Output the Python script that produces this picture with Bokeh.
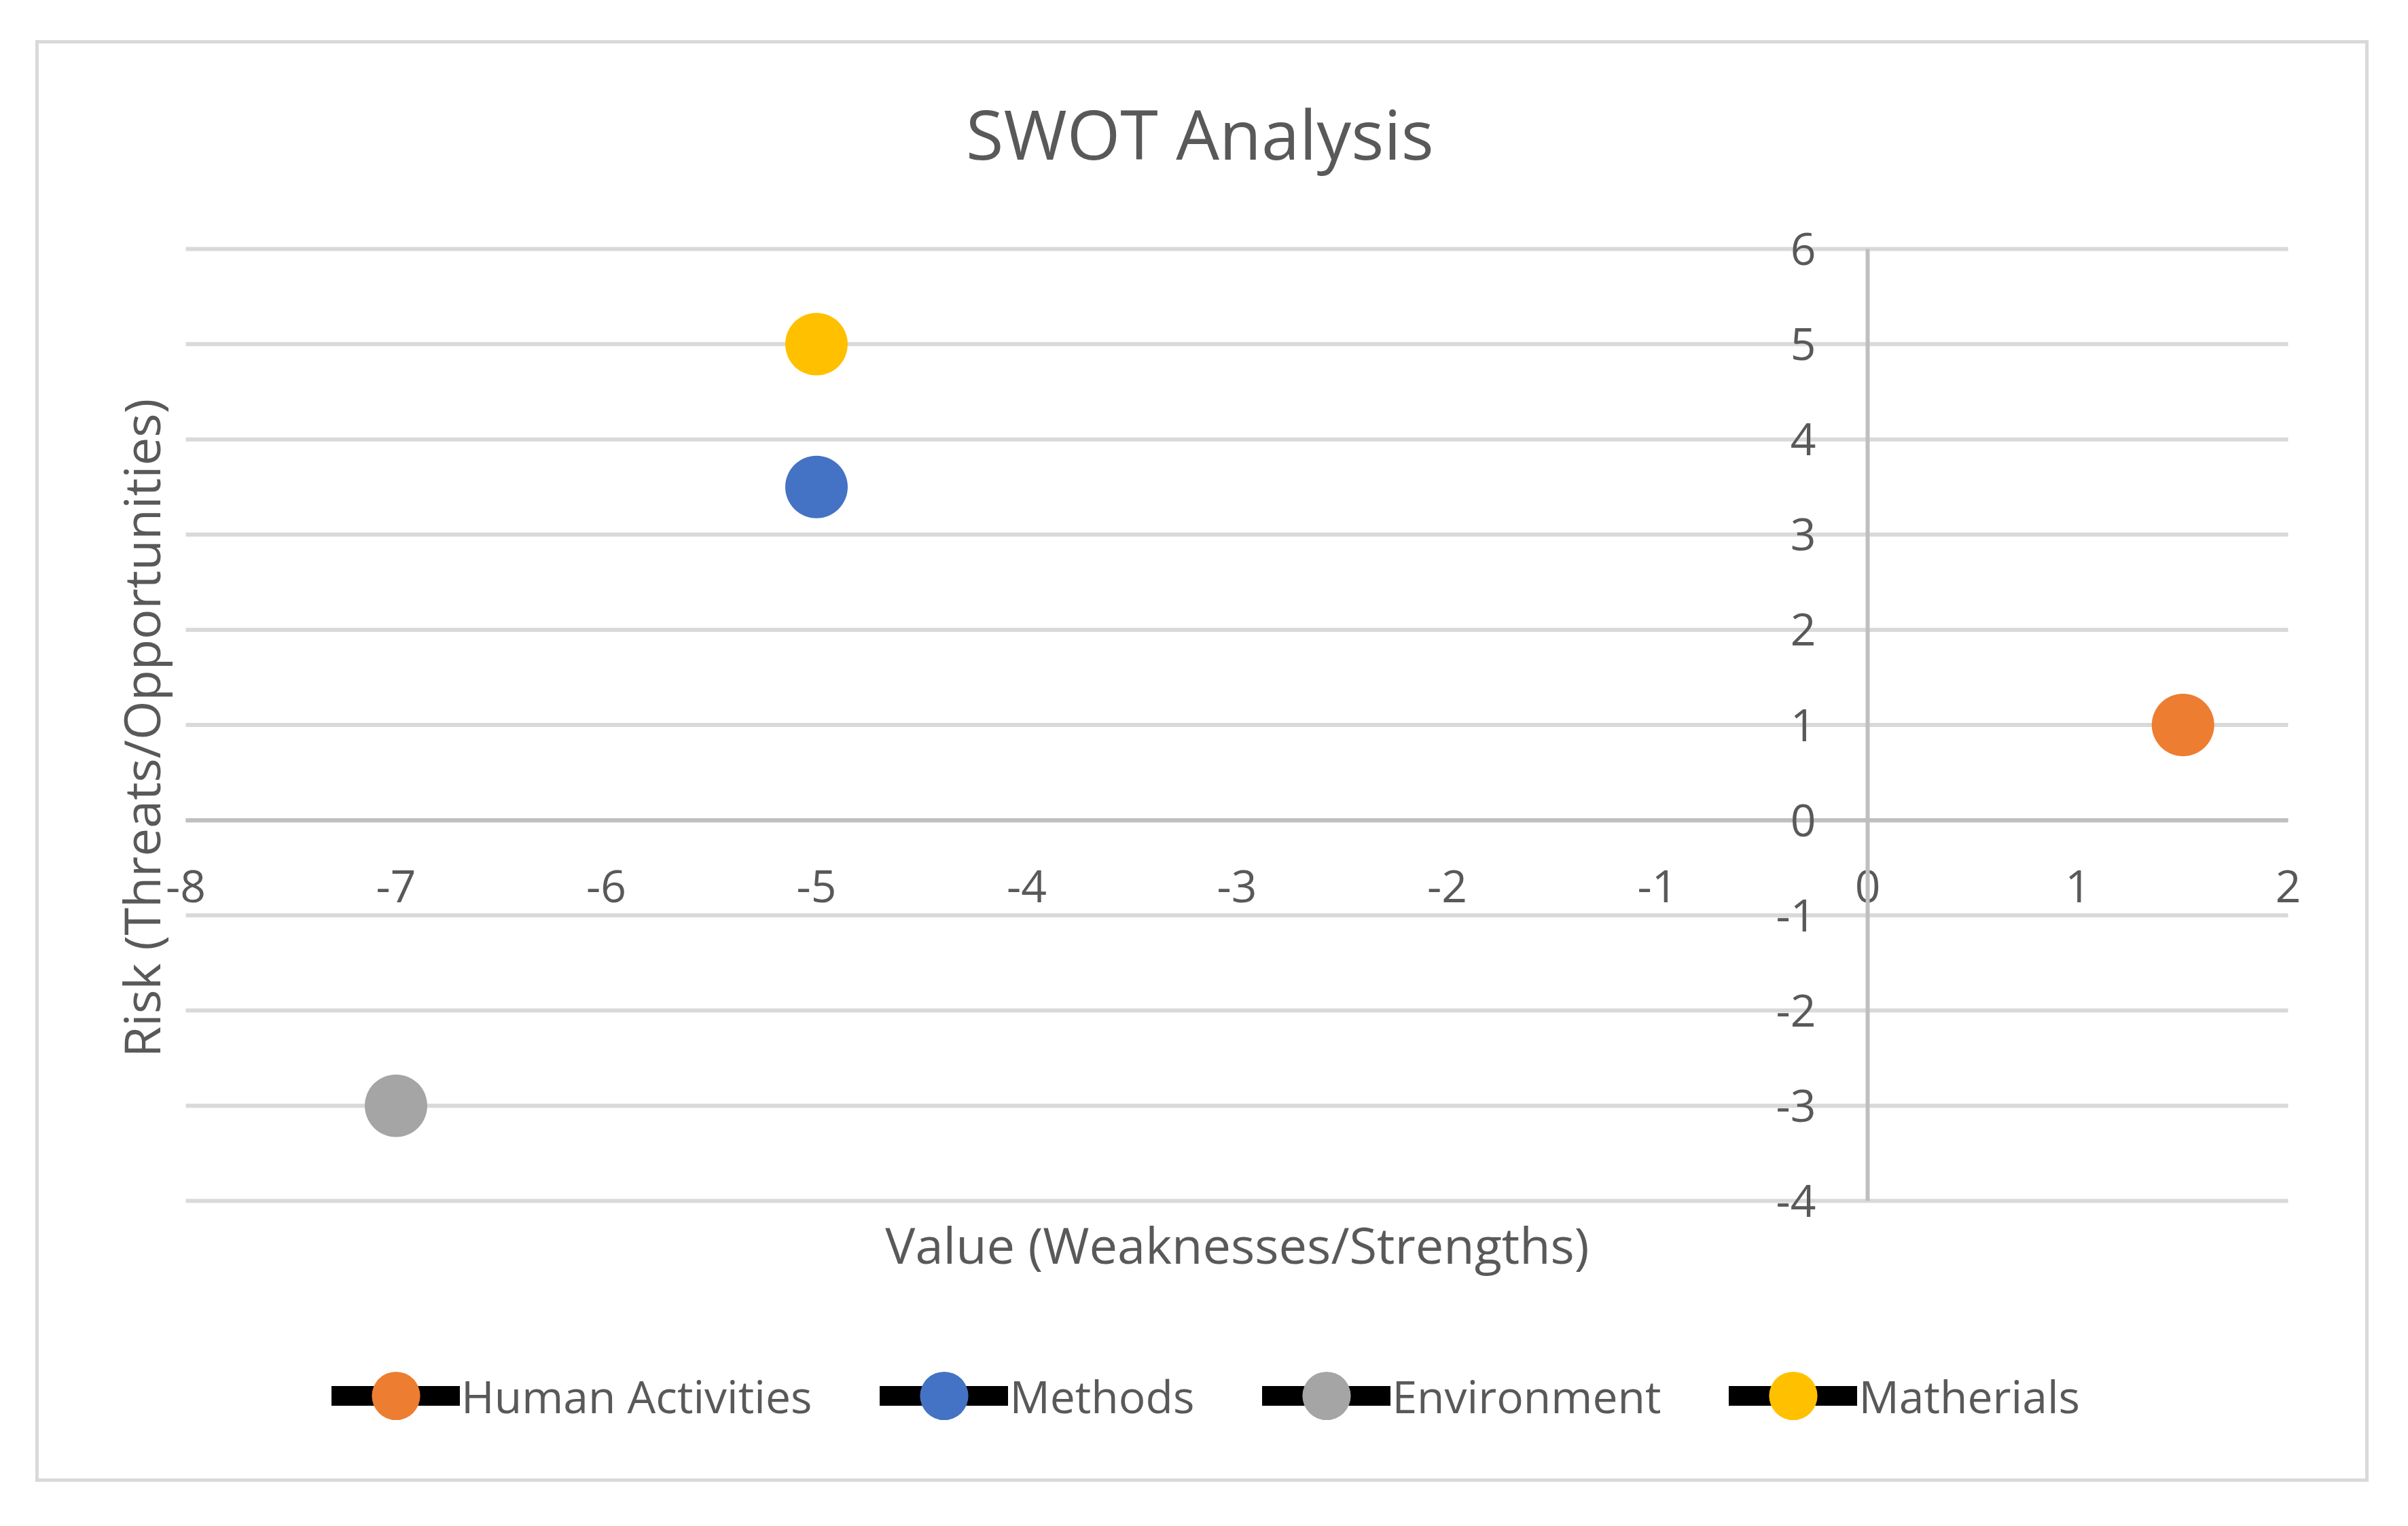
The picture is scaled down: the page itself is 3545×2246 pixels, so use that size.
import math
from bokeh.plotting import figure
from bokeh.models import (Range1d, Legend, LegendItem, FixedTicker, PrintfTickFormatter, Label)
from bokeh.embed import file_html
from bokeh.resources import INLINE

# ---- data ----
series_names = ["Human Activities", "Methods", "Environment", "Matherials"]
x_values = [1.5, -5, -7, -5]
y_values = [1, 3.5, -3, 5]
series_colors = ["#ED7D31", "#4472C4", "#A5A5A5", "#FFC000"]
x_ticks = [-8, -7, -6, -5, -4, -3, -2, -1, 0, 1, 2]
y_ticks = [-4, -3, -2, -1, 0, 1, 2, 3, 4, 5, 6]
x_min, x_max = -8, 2
y_min, y_max = -4, 6
chart_title = "SWOT Analysis"
x_title = "Value (Weaknesses/Strengths)"
y_title = "Risk (Threats/Opportunities)"

FONT = "Open Sans"
TXT = "#595959"

# ---- layout (page pixels) ----
CANVAS_X0, CANVAS_Y0 = 60, 66          # top-left of drawing canvas on the page
W, H = 3435, 2122                      # canvas size
AX_LEFT, AX_RIGHT = 276, 3371          # page x of x_min / x_max
AX_TOP, AX_BOTTOM = 368, 1769          # page y of y_max / y_min
ux = (AX_RIGHT - AX_LEFT) / (x_max - x_min)
uy = (AX_BOTTOM - AX_TOP) / (y_max - y_min)


def dx(px):
    return x_min + (px - AX_LEFT) / ux


def dy(py):
    return y_max - (py - AX_TOP) / uy


p = figure(width=W, height=H, output_backend="svg", toolbar_location=None,
           x_range=Range1d(dx(CANVAS_X0), dx(CANVAS_X0 + W)),
           y_range=Range1d(dy(CANVAS_Y0 + H), dy(CANVAS_Y0)),
           min_border_left=0, min_border_right=0, min_border_top=0, min_border_bottom=0)
p.margin = (59, 0, 0, 52)
p.styles = {"border": "5px solid #d9d9d9"}
p.outline_line_color = None
p.background_fill_color = "white"
p.border_fill_color = "white"

# horizontal gridlines limited to the axis extent
p.segment(x0=x_min, x1=x_max, y0=y_ticks, y1=y_ticks, line_color="#D9D9D9", line_width=6)
p.xgrid.visible = False
p.ygrid.visible = False

# axes crossing at zero
for ax in (p.xaxis[0], p.yaxis[0]):
    ax.fixed_location = 0
    ax.axis_line_color = "#BFBFBF"
    ax.axis_line_width = 6
    ax.major_tick_line_color = None
    ax.minor_tick_line_color = None
    ax.major_label_text_font = FONT
    ax.major_label_text_font_size = "66px"
    ax.major_label_text_color = TXT
    ax.formatter = PrintfTickFormatter(format="%d")
p.xaxis[0].ticker = FixedTicker(ticks=x_ticks)
p.yaxis[0].ticker = FixedTicker(ticks=y_ticks)
p.xaxis[0].bounds = (x_min, x_max)
p.yaxis[0].bounds = (y_min, y_max)
p.xaxis[0].major_label_standoff = 68
p.yaxis[0].major_label_standoff = 70

# titles
p.add_layout(Label(x=dx(1769), y=dy(197), text=chart_title, text_align="center",
                   text_baseline="alphabetic", text_font=FONT, text_font_size="101px",
                   text_color=TXT))
p.add_layout(Label(x=dx(1824), y=dy(1833), text=x_title, text_align="center",
                   text_baseline="alphabetic", text_font=FONT, text_font_size="74px",
                   text_color=TXT))
p.add_layout(Label(x=dx(210), y=dy(1073), text=y_title, text_align="center",
                   text_baseline="alphabetic", angle=math.pi / 2, text_font=FONT,
                   text_font_size="74px", text_color=TXT))

items = []
for name, xv, yv, col in zip(series_names, x_values, y_values, series_colors):
    ln = p.line([xv], [yv], line_color="black", line_width=29, line_cap="round")
    sc = p.scatter([xv], [yv], size=92, fill_color=col, line_color=None, marker="circle")
    items.append(LegendItem(label=name, renderers=[ln, sc]))

LEG_H = 178
legend = Legend(items=items, orientation="horizontal",
                location=(491 - CANVAS_X0, (CANVAS_Y0 + H) - (2056 + LEG_H / 2)),
                glyph_width=189, glyph_height=LEG_H, label_standoff=2, spacing=100,
                padding=0, margin=0, border_line_color=None, background_fill_alpha=0,
                label_text_font=FONT, label_text_font_size="66px", label_text_color=TXT)
p.add_layout(legend, "center")

open("out.html", "w").write(file_html(p, INLINE))
